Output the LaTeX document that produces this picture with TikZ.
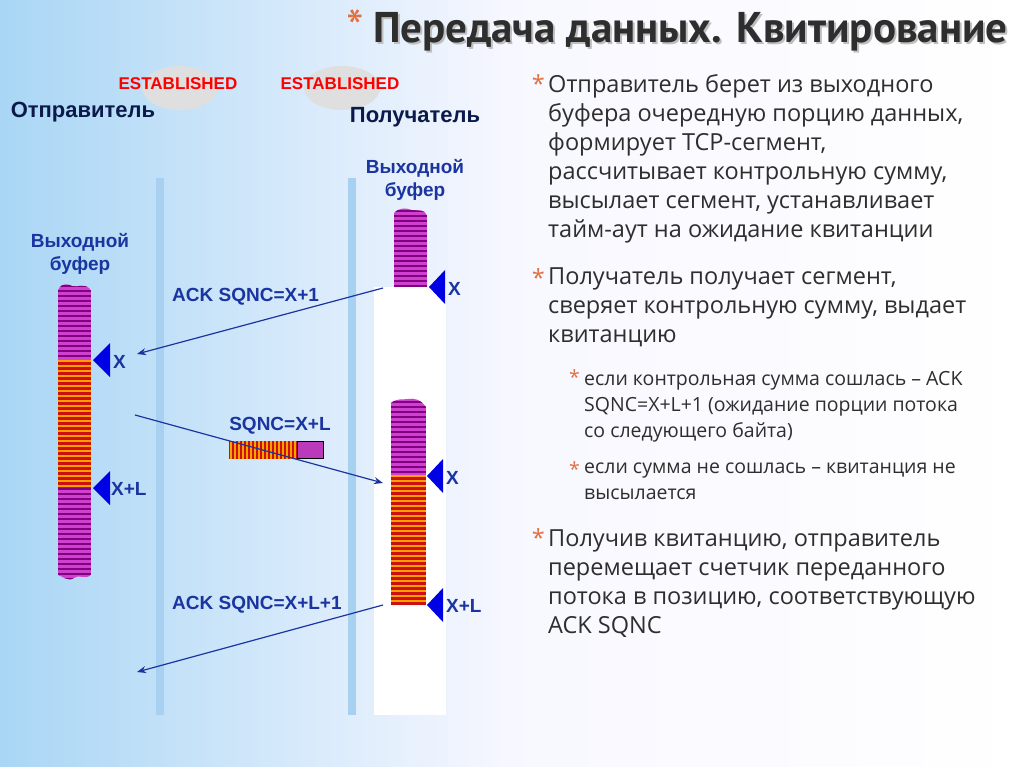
\documentclass[tikz,border=0pt]{standalone}
\usepackage{fontspec}
\setmainfont{Open Sans}
\newfontfamily\arial{Liberation Sans}
\newfontfamily\ptsans{PT Sans}
\usetikzlibrary{arrows.meta}
\definecolor{lblue}{HTML}{A9D6F5}
\definecolor{vline}{HTML}{A8D0F0}
\definecolor{dblue}{HTML}{1A35A0}
\definecolor{navy}{HTML}{0B1A4A}
\definecolor{mag}{HTML}{D040D0}
\definecolor{purp}{HTML}{800080}
\definecolor{rred}{HTML}{CC1010}
\definecolor{oran}{HTML}{FFA000}
\definecolor{ast}{HTML}{E07040}
\definecolor{txt}{HTML}{2E2E2E}
\tikzset{
  lab/.style={font=\arial\bfseries\fontsize{19}{22}\selectfont, text=dblue, inner sep=0pt},
  est/.style={font=\arial\bfseries\fontsize{17}{20}\selectfont, text=red, inner sep=0pt},
  head/.style={font=\arial\bfseries\fontsize{22}{26}\selectfont, text=navy, inner sep=0pt},
  tri/.style={fill=blue!90!black},
  msg/.style={draw=dblue, line width=1.2pt, -{Stealth[length=9pt,width=7pt]}},
  body/.style={font=\fontsize{23.5}{29}\selectfont, text=txt, align=left, anchor=north west, inner sep=0pt},
  small/.style={font=\fontsize{19.5}{26}\selectfont, text=txt, align=left, anchor=north west, inner sep=0pt},
  star/.style={text=ast, anchor=north east, inner sep=0pt},
}
\newcommand{\mstripes}[4]{% x1,y1,x2,y2 magenta
  \fill[mag] (#1,#2) rectangle (#3,#4);
  \foreach \yy in {#2,...,#4}{\pgfmathparse{mod(\yy-#2,5)<2?1:0}\ifnum\pgfmathresult=1 \fill[purp] (#1,\yy) rectangle (#3,\yy+1);\fi}}
\newcommand{\rstripes}[4]{%
  \fill[rred] (#1,#2) rectangle (#3,#4);
  \foreach \yy in {#2,...,#4}{\pgfmathparse{mod(\yy-#2,5)<2?1:0}\ifnum\pgfmathresult=1 \fill[oran] (#1,\yy) rectangle (#3,\yy+1);\fi}}
\begin{document}
\begin{tikzpicture}[x=1pt,y=-1pt]
\useasboundingbox (0,0) rectangle (1024,767);
\shade[left color=lblue, right color=white, middle color=blue!3] (0,0) rectangle (1024,767);
% title
\node[anchor=west, inner sep=0pt, font=\ptsans\bfseries\fontsize{43}{46}\selectfont, text=gray!50] at (375,34) {Передача данных. Квитирование};
\node[anchor=west, inner sep=0pt, font=\ptsans\bfseries\fontsize{43}{46}\selectfont, text=txt] (title) at (373,32) {Передача данных. Квитирование};
\node[anchor=east, inner sep=0pt, text=ast, font=\ptsans\fontsize{50}{50}\selectfont] at ([yshift=4pt]title.west) {*\,};
% ellipses and headers
\fill[gray!25] (180,88) ellipse (38 and 22);
\fill[gray!25] (342,88) ellipse (38 and 22);
\node[est] (e1) at (178,84) {ESTABLISHED};
\node[est] (e2) at (340,84) {ESTABLISHED};
\node[head] (snd) at (83,112) {Отправитель};
\node[head] (rcv) at (415,117) {Получатель};
% lifelines
\fill[vline] (156,178) rectangle (164,715);
\fill[vline] (348,178) rectangle (356,715);
\fill[white] (374,287) rectangle (446,715);
% sender buffer
\node[lab, align=center] (sb) at (80,254) {Выходной\\[1pt]буфер};
\begin{scope}
\clip (58,290) .. controls (62,282) and (68,284) .. (72,286) .. controls (78,288) and (84,282) .. (91,290) -- (91,575) .. controls (85,580) and (80,574) .. (74,578) .. controls (68,582) and (62,576) .. (58,575) -- cycle;
\mstripes{58}{280}{91}{360}
\rstripes{58}{360}{91}{488}
\mstripes{58}{488}{91}{582}
\end{scope}
\fill[tri] (93,360) -- (110,343) -- (110,377) -- cycle;
\node[lab, anchor=west] (sx) at (113,362) {X};
\fill[tri] (93,488) -- (110,471) -- (110,505) -- cycle;
\node[lab, anchor=west] (sxl) at (111,489) {X+L};
% receiver buffer 1
\node[lab, align=center] (rb) at (415,180) {Выходной\\[1pt]буфер};
\begin{scope}
\clip (394,213) .. controls (400,207) and (406,208) .. (412,210) .. controls (418,211) and (424,209) .. (427,215) -- (427,287) -- (394,287) -- cycle;
\mstripes{394}{205}{427}{287}
\end{scope}
\fill[tri] (429,287) -- (445,270) -- (445,304) -- cycle;
\node[lab, anchor=west] (rx1) at (448,289) {X};
% receiver buffer 2
\begin{scope}
\clip (391,403) .. controls (397,398) and (402,400) .. (408,399) .. controls (414,398) and (420,399) .. (426,407) -- (426,605) -- (391,605) -- cycle;
\mstripes{391}{396}{426}{475}
\rstripes{391}{475}{426}{605}
\end{scope}
\fill[tri] (427,476) -- (443,459) -- (443,493) -- cycle;
\node[lab, anchor=west] (rx2) at (446,478) {X};
\fill[tri] (427,605) -- (443,588) -- (443,622) -- cycle;
\node[lab, anchor=west] (rxl) at (446,606) {X+L};
% segment
\begin{scope}
\clip (229,441) rectangle (297,459);
\fill[rred] (229,441) rectangle (297,459);
\foreach \xx in {230,234,...,296} \fill[oran] (\xx,441) rectangle (\xx+1.5,459);
\end{scope}
\filldraw[fill=mag!90!black, draw=black, line width=0.8pt] (297,441) rectangle (323,458);
\node[lab] (seg) at (280,426) {SQNC=X+L};
% messages
\coordinate (a1s) at (383,288); \coordinate (a1e) at (137,354);
\coordinate (a2s) at (135,415); \coordinate (a2e) at (383,483);
\coordinate (a3s) at (383,605); \coordinate (a3e) at (137,672);
\draw[msg] (a1s) -- (a1e);
\draw[msg] (a2s) -- (a2e);
\draw[msg] (a3s) -- (a3e);
\node[lab, anchor=west] (l1) at (172,297) {ACK SQNC=X+1};
\node[lab, anchor=west] (l3) at (172,605) {ACK SQNC=X+L+1};
% right text
\node[body] (t1) at (548,74) {Отправитель берет из выходного\\буфера очередную порцию данных,\\формирует TCP-сегмент,\\рассчитывает контрольную сумму,\\высылает сегмент, устанавливает\\тайм-аут на ожидание квитанции};
\node[star, font=\fontsize{23.5}{29}\selectfont] at (545,74) {*};
\node[body] (t2) at (548,268) {Получатель получает сегмент,\\сверяет контрольную сумму, выдает\\квитанцию};
\node[star, font=\fontsize{23.5}{29}\selectfont] at (545,268) {*};
\node[small] (t3) at (584,371) {если контрольная сумма сошлась – ACK\\SQNC=X+L+1 (ожидание порции потока\\со следующего байта)};
\node[star, font=\fontsize{19.5}{26}\selectfont] at (580,369) {*};
\node[small] (t4) at (584,463) {если сумма не сошлась – квитанция не\\высылается};
\node[star, font=\fontsize{19.5}{26}\selectfont] at (580,461) {*};
\node[body] (t5) at (548,530) {Получив квитанцию, отправитель\\перемещает счетчик переданного\\потока в позицию, соответствующую\\ACK SQNC};
\node[star, font=\fontsize{23.5}{29}\selectfont] at (545,528) {*};
\end{tikzpicture}
\end{document}
